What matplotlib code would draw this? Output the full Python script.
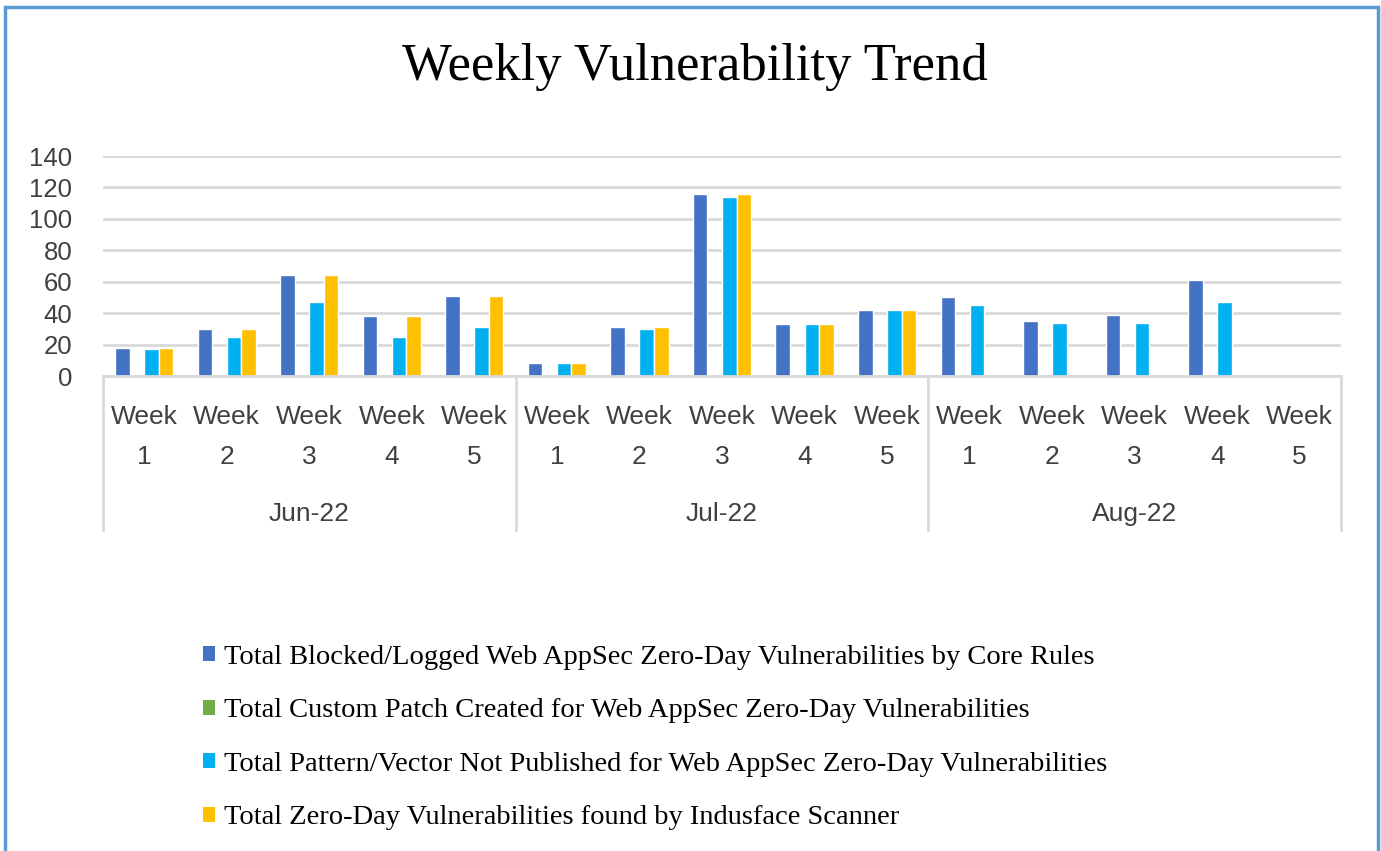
import matplotlib.pyplot as plt
from matplotlib.patches import Patch, Rectangle
import numpy as np

months = ['Jun-22', 'Jul-22', 'Aug-22']
weeks = ['Week\n1', 'Week\n2', 'Week\n3', 'Week\n4', 'Week\n5'] * 3

blocked = [18, 30, 64, 38, 51, 8, 31, 116, 33, 42, 50, 35, 39, 61, 0]
custom = [0, 0, 0, 0, 0, 0, 0, 0, 0, 0, 0, 0, 0, 1, 0]
pattern = [17, 25, 47, 25, 31, 8, 30, 114, 33, 42, 45, 34, 34, 47, 0]
scanner = [18, 30, 64, 38, 51, 8, 31, 116, 33, 42, 0, 0, 0, 0, 0]

labels = ['Total Blocked/Logged Web AppSec Zero-Day Vulnerabilities by Core Rules',
          'Total Custom Patch Created for Web AppSec Zero-Day Vulnerabilities',
          'Total Pattern/Vector Not Published for Web AppSec Zero-Day Vulnerabilities',
          'Total Zero-Day Vulnerabilities found by Indusface Scanner']
colors = ['#4472C4', '#70AD47', '#00B0F0', '#FFC000']
series = [blocked, custom, pattern, scanner]

W, H = 1381, 851
fig = plt.figure(figsize=(W / 100, H / 100), dpi=100)
ax = fig.add_axes([103 / W, 1 - 376 / H, (1341 - 103) / W, 220 / H])

x = np.arange(len(weeks))
w = 0.176
for k in range(4):
    ax.bar(x + (k - 1.5) * w, series[k], width=w, color=colors[k],
           edgecolor='white', linewidth=1.0, zorder=3)

ax.set_xlim(-0.5, len(weeks) - 0.5)
ax.set_ylim(0, 140)
ax.set_yticks(range(0, 141, 20))
ax.yaxis.grid(True, color='#d9d9d9', linewidth=2, zorder=0)
ax.tick_params(axis='y', length=0, pad=22, labelsize=18.5, labelcolor='#404040')
for t in ax.get_yticklabels():
    t.set_family('Liberation Sans')
ax.set_xticks([])
for s in ax.spines.values():
    s.set_visible(False)
ax.axhline(0, color='#d9d9d9', linewidth=2, zorder=4, clip_on=False)

# two level category axis
tr = ax.get_xaxis_transform()
for b in [-0.5, 4.5, 9.5, 14.5]:
    ax.plot([b, b], [0, -154 / 220], transform=tr, color='#d9d9d9',
            linewidth=2, clip_on=False)
for i, wk in enumerate(weeks):
    ax.text(i, -61 / 220, wk, transform=tr, ha='center', va='center',
            fontsize=19, family='Liberation Sans', color='#404040',
            linespacing=1.8)
for m, name in enumerate(months):
    ax.text(2 + 5 * m, -138 / 220, name, transform=tr, ha='center',
            va='center', fontsize=19, family='Liberation Sans', color='#404040')

fig.text(0.503, 1 - 67 / H, 'Weekly Vulnerability Trend', ha='center',
         va='center', fontsize=38, family='Liberation Serif', color='black')

handles = [Patch(facecolor=c, edgecolor='none') for c in colors]
fig.legend(handles, labels, loc='upper left', bbox_to_anchor=(203 / W, 1 - 645 / H),
           frameon=False, prop={'family': 'Liberation Serif', 'size': 20.5},
           handlelength=0.42, handleheight=0.42, handletextpad=0.3,
           labelspacing=1.0, borderpad=0, borderaxespad=0)

# chart frame
fig.patches.append(Rectangle((5 / W, -0.05), (1378 - 5) / W, 1.05 - 7 / H,
                             transform=fig.transFigure, fill=False,
                             edgecolor='#5B9BD5', linewidth=2.5))

fig.savefig('out.png', dpi=100)
